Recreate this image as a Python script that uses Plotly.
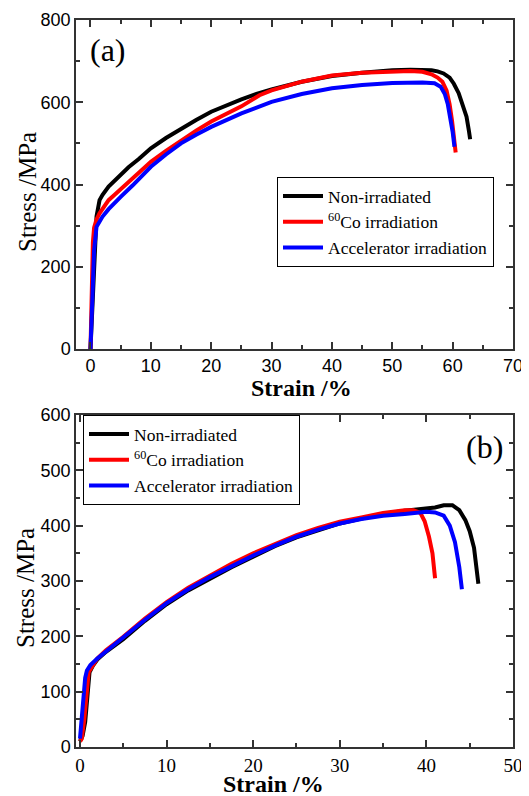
import plotly.graph_objects as go

# ---------------- Panel (a) data ----------------
a_non_strain = [0, 0.3, 0.6, 0.8, 1.0, 1.5, 2, 3, 4, 5, 6.3, 8, 10, 12.5, 15, 17.5, 20, 22.5, 25, 27.5, 30, 35, 40, 45, 50, 53, 55, 56.5, 57.5, 58.5, 59.5, 60.2, 61, 61.7, 62.3, 62.7, 62.9]
a_non_stress = [0, 100, 200, 270, 322, 362, 375, 395, 410, 425, 442, 462, 488, 513, 536, 557, 577, 593, 607, 620, 631, 650, 664, 672, 678, 679, 679, 678, 675, 670, 660, 645, 622, 595, 565, 530, 510]

a_co_strain = [0, 0.2, 0.4, 0.6, 1, 1.5, 2, 3, 4, 5, 7, 10, 12.5, 15, 17.5, 20, 22.5, 25, 28, 30, 35, 40, 45, 50, 53, 55, 56.5, 57.5, 58.3, 59, 59.5, 59.9, 60.3, 60.5]
a_co_stress = [0, 150, 260, 295, 315, 330, 342, 362, 375, 388, 415, 455, 482, 507, 531, 553, 572, 590, 617, 629, 650, 665, 672, 675, 676, 674, 668, 660, 650, 628, 595, 555, 505, 478]

a_acc_strain = [0, 0.3, 0.6, 1, 1.5, 2, 3, 4, 5, 7, 10, 12.5, 15, 17.5, 20, 25, 30, 35, 40, 45, 50, 55, 57, 58, 58.7, 59.2, 59.6, 60, 60.3]
a_acc_stress = [0, 120, 240, 297, 312, 322, 340, 356, 370, 398, 443, 473, 500, 521, 540, 573, 601, 620, 634, 642, 647, 648, 646, 638, 620, 595, 565, 528, 492]

# ---------------- Panel (b) data ----------------
b_non_strain = [0, 0.3, 0.6, 0.9, 1.1, 1.5, 2, 3, 5, 7.5, 10, 12.5, 15, 17.5, 20, 22.5, 25, 27.5, 30, 32.5, 35, 37.5, 40, 41, 42, 43, 43.8, 44.5, 45, 45.5, 46]
b_non_stress = [10, 20, 45, 100, 135, 147, 158, 172, 195, 228, 258, 283, 305, 325, 344, 363, 379, 392, 404, 413, 421, 427, 431, 433, 437, 437, 428, 410, 390, 360, 295]

b_co_strain = [0, 0.2, 0.5, 0.8, 1.0, 1.5, 2, 3, 5, 7.5, 10, 12.5, 15, 17.5, 20, 22.5, 25, 27.5, 30, 32.5, 35, 37.5, 38.5, 39.3, 39.8, 40.3, 40.7, 41]
b_co_stress = [10, 15, 50, 110, 135, 148, 160, 175, 199, 232, 262, 288, 310, 331, 350, 367, 383, 396, 407, 415, 423, 428, 428, 423, 408, 380, 350, 305]

b_acc_strain = [0, 0.2, 0.4, 0.6, 0.8, 1.2, 2, 3, 5, 7.5, 10, 12.5, 15, 17.5, 20, 22.5, 25, 27.5, 30, 32.5, 35, 37.5, 40, 41, 42, 42.7, 43.3, 43.8, 44.1]
b_acc_stress = [15, 50, 95, 125, 138, 148, 160, 173, 197, 230, 260, 285, 307, 327, 346, 364, 380, 393, 404, 412, 418, 421, 425, 424, 418, 400, 370, 325, 285]

names = ["Non-irradiated", "<sup>60</sup>Co irradiation", "Accelerator irradiation"]
colors = ["#000000", "#ff0000", "#0000ff"]

fig = go.Figure()

a_sets = [(a_non_strain, a_non_stress), (a_co_strain, a_co_stress), (a_acc_strain, a_acc_stress)]
b_sets = [(b_non_strain, b_non_stress), (b_co_strain, b_co_stress), (b_acc_strain, b_acc_stress)]

for (xs, ys), nm, c in zip(a_sets, names, colors):
    fig.add_trace(go.Scatter(x=xs, y=ys, mode="lines", name=nm, line=dict(color=c, width=4),
                             xaxis="x", yaxis="y", legend="legend"))
for (xs, ys), nm, c in zip(b_sets, names, colors):
    fig.add_trace(go.Scatter(x=xs, y=ys, mode="lines", name=nm, line=dict(color=c, width=4),
                             xaxis="x2", yaxis="y2", legend="legend2"))

# The page body adds an 8px offset; size the figure so it fills the 529x796 window.
OFF = 8
W, H = 529 - OFF, 796 - OFF


def px(p):
    return (p - OFF) / W


def py(p):
    return 1 - (p - OFF) / H


axcol = "#333333"
sans = "Liberation Sans, Arial, sans-serif"
serif = "Liberation Serif, Times New Roman, serif"

common = dict(showline=True, linecolor=axcol, linewidth=1.5, mirror="ticks", ticks="inside",
              ticklen=7, tickwidth=1.5, tickcolor=axcol, showgrid=False, zeroline=False,
              automargin=False)


def minor(d):
    return dict(ticks="inside", ticklen=4, tickwidth=1.5, tickcolor=axcol, dtick=d)


xdom = [px(76), px(513)]
fig.update_layout(
    width=W, height=H, margin=dict(l=0, r=0, t=0, b=0, autoexpand=False),
    paper_bgcolor="white", plot_bgcolor="white",
    xaxis=dict(domain=xdom, anchor="y", range=[-2.4, 70], dtick=10, tick0=0,
               tickfont=dict(family=sans, size=18, color="black"), minor=minor(5), **common),
    yaxis=dict(domain=[py(349), py(20)], anchor="x", range=[0, 800], dtick=200,
               tickfont=dict(family=sans, size=18, color="black"), minor=minor(100), **common),
    xaxis2=dict(domain=xdom, anchor="y2", range=[-0.46, 50], dtick=10, tick0=0,
                tickfont=dict(family=serif, size=19, color="black"), minor=minor(5), **common),
    yaxis2=dict(domain=[py(747), py(415)], anchor="x2", range=[0, 600], dtick=100,
                tickfont=dict(family=sans, size=18, color="black"), minor=minor(50), **common),
    legend=dict(x=px(277), y=py(177), xanchor="left", yanchor="top",
                bgcolor="white", bordercolor="black", borderwidth=1, itemwidth=40,
                font=dict(family=serif, size=17.5, color="black"), tracegroupgap=0),
    legend2=dict(x=px(83), y=py(415), xanchor="left", yanchor="top",
                 bgcolor="white", bordercolor="black", borderwidth=1, itemwidth=40,
                 font=dict(family=serif, size=17.5, color="black"), tracegroupgap=0),
    showlegend=True,
)

ann = [
    dict(text="(a)", x=px(88), y=py(50), xanchor="left", yanchor="middle",
         font=dict(family=serif, size=32, color="black")),
    dict(text="(b)", x=px(505), y=py(447), xanchor="right", yanchor="middle",
         font=dict(family=serif, size=32, color="black")),
    dict(text="<b>Strain /%</b>", x=px(301), y=py(388), xanchor="center", yanchor="middle",
         font=dict(family=serif, size=24, color="black")),
    dict(text="<b>Strain /%</b>", x=px(273), y=py(784), xanchor="center", yanchor="middle",
         font=dict(family=serif, size=24, color="black")),
    dict(text="Stress /MPa", x=px(27), y=py(192), xanchor="center", yanchor="middle",
         textangle=-90, font=dict(family=serif, size=25, color="black")),
    dict(text="Stress /MPa", x=px(25), y=py(588), xanchor="center", yanchor="middle",
         textangle=-90, font=dict(family=serif, size=25, color="black")),
]
for a in ann:
    a.update(xref="paper", yref="paper", showarrow=False)
fig.update_layout(annotations=ann)

fig.write_html("out.html")
